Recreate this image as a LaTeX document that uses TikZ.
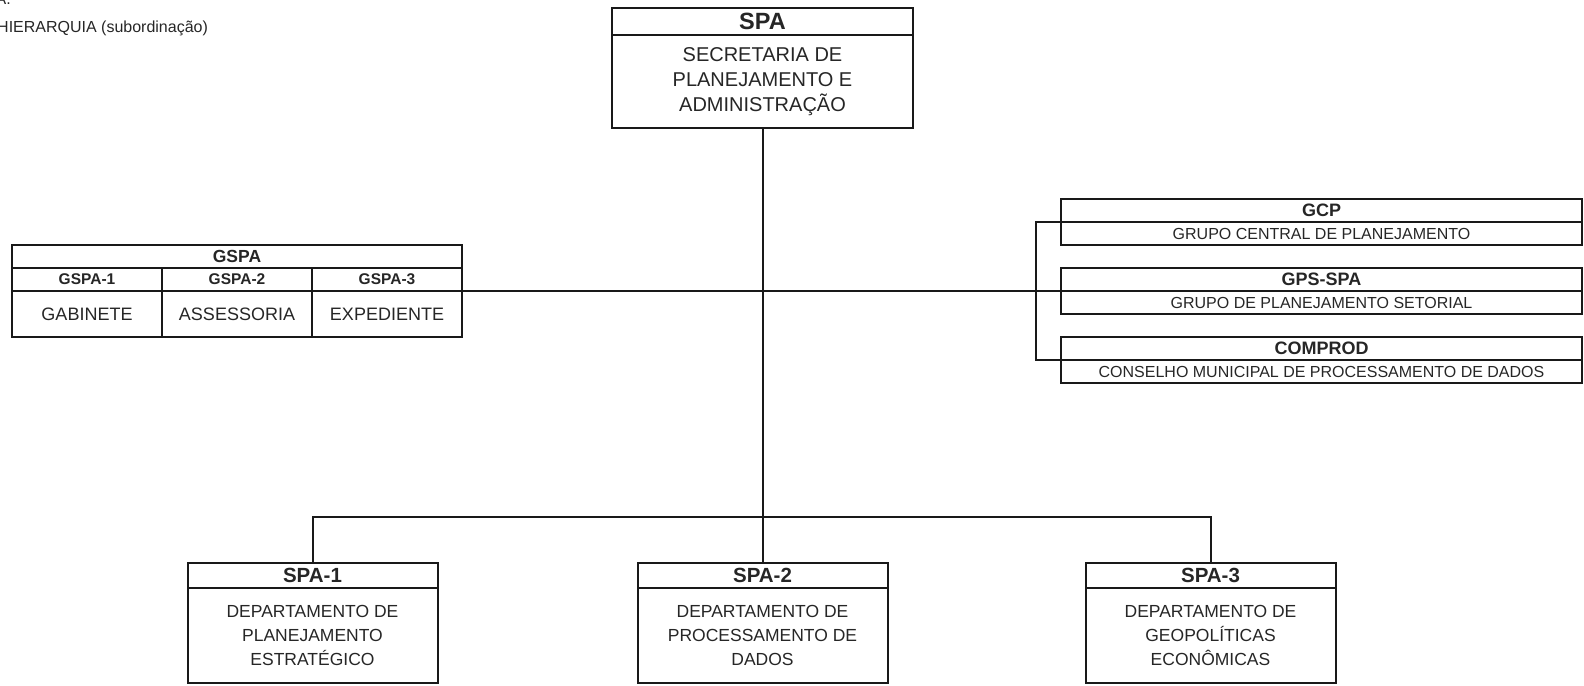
\documentclass[tikz,border=0pt]{standalone}
\usepackage{fontspec}
\setmainfont{Liberation Sans}
\usetikzlibrary{positioning}
\tikzset{
    caixa/.style={draw=black!90, line width=2pt, inner sep=0pt, outer sep=0pt, align=center, text=black!85},
    % cabecalhos (sigla)
    sigla/.style={caixa, font=\bfseries\fontsize{18}{20}\selectfont},
    % corpo (nome por extenso)
    nome/.style={caixa, font=\fontsize{17.5}{24}\selectfont},
    linha/.style={draw=black!90, line width=2pt},
}

\begin{document}
\begin{tikzpicture}[x=1pt, y=-1pt]
            \useasboundingbox (0,0) rectangle (1584,685);

            % Legenda
            \node[anchor=base east, inner sep=0pt, text=black!85, font=\fontsize{16}{19}\selectfont] (lega) at (11,5) {A.};
            \node[anchor=base west, inner sep=0pt, text=black!85, font=\fontsize{16}{19}\selectfont] (leg) at (-3,33) {HIERARQUIA (subordinação)};

            % Secretaria
            \node[sigla, font=\bfseries\fontsize{23.5}{24}\selectfont, minimum width=301pt, minimum height=27pt] (spah) at (762.5,21.5) {SPA};
            \node[nome, font=\fontsize{20}{25}\selectfont, minimum width=301pt, minimum height=93pt, below=0pt of spah] (spa) {SECRETARIA DE\\PLANEJAMENTO E\\ADMINISTRAÇÃO};

            % Departamentos
            \node[sigla, font=\bfseries\fontsize{20.5}{22}\selectfont, minimum width=250pt, minimum height=25pt, below=435pt of spa] (spa2h) {SPA-2};
            \node[nome, minimum width=250pt, minimum height=95pt, below=0pt of spa2h] (spa2) {DEPARTAMENTO DE\\PROCESSAMENTO DE\\DADOS};
            \node[sigla, font=\bfseries\fontsize{20.5}{22}\selectfont, minimum width=250pt, minimum height=25pt, left=200pt of spa2h] (spa1h) {SPA-1};
            \node[nome, minimum width=250pt, minimum height=95pt, below=0pt of spa1h] (spa1) {DEPARTAMENTO DE\\PLANEJAMENTO\\ESTRATÉGICO};
            \node[sigla, font=\bfseries\fontsize{20.5}{22}\selectfont, minimum width=250pt, minimum height=25pt, right=198pt of spa2h] (spa3h) {SPA-3};
            \node[nome, minimum width=250pt, minimum height=95pt, below=0pt of spa3h] (spa3) {DEPARTAMENTO DE\\GEOPOLÍTICAS\\ECONÔMICAS};

            % Gabinete (GSPA)
            \node[sigla, font=\bfseries\fontsize{17.5}{19}\selectfont, minimum width=450pt, minimum height=23pt] (gspa) at (237,256.5) {GSPA};
            \node[sigla, font=\bfseries\fontsize{15.5}{18}\selectfont, minimum width=150pt, minimum height=23pt, below right=0pt and 0pt of gspa.south west] (gspa1h) {GSPA-1};
            \node[sigla, font=\bfseries\fontsize{15.5}{18}\selectfont, minimum width=150pt, minimum height=23pt, right=0pt of gspa1h] (gspa2h) {GSPA-2};
            \node[sigla, font=\bfseries\fontsize{15.5}{18}\selectfont, minimum width=150pt, minimum height=23pt, right=0pt of gspa2h] (gspa3h) {GSPA-3};
            \node[nome, font=\fontsize{18}{22}\selectfont, minimum width=150pt, minimum height=46pt, below=0pt of gspa1h] (gspa1) {GABINETE};
            \node[nome, font=\fontsize{18}{22}\selectfont, minimum width=150pt, minimum height=46pt, below=0pt of gspa2h] (gspa2) {ASSESSORIA};
            \node[nome, font=\fontsize{18}{22}\selectfont, minimum width=150pt, minimum height=46pt, below=0pt of gspa3h] (gspa3) {EXPEDIENTE};

            % Grupos e conselho
            \node[sigla, minimum width=521pt, minimum height=23pt] (gcph) at (1321.5,210.5) {GCP};
            \node[nome, font=\fontsize{16}{20}\selectfont, minimum width=521pt, minimum height=23pt, below=0pt of gcph] (gcp) {GRUPO CENTRAL DE PLANEJAMENTO};
            \node[sigla, minimum width=521pt, minimum height=23pt, below=23pt of gcp] (gpsh) {GPS-SPA};
            \node[nome, font=\fontsize{16}{20}\selectfont, minimum width=521pt, minimum height=23pt, below=0pt of gpsh] (gps) {GRUPO DE PLANEJAMENTO SETORIAL};
            \node[sigla, minimum width=521pt, minimum height=23pt, below=23pt of gps] (comph) {COMPROD};
            \node[nome, font=\fontsize{16}{20}\selectfont, minimum width=521pt, minimum height=23pt, below=0pt of comph] (comp) {CONSELHO MUNICIPAL DE PROCESSAMENTO DE DADOS};

            % Ligacoes
            \coordinate (barra) at (762.5,517);
            \coordinate (chave) at (1036,291);
            \draw[linha] (spa.south) -- (spa2h.north);
            \draw[linha] (spa1h.north) |- (barra) -| (spa3h.north);
            \draw[linha] (gspa3h.south east) -- (gpsh.south west);
            \draw[linha] (gcph.south west) -| (chave) |- (comph.south west);

\end{tikzpicture}
\end{document}
